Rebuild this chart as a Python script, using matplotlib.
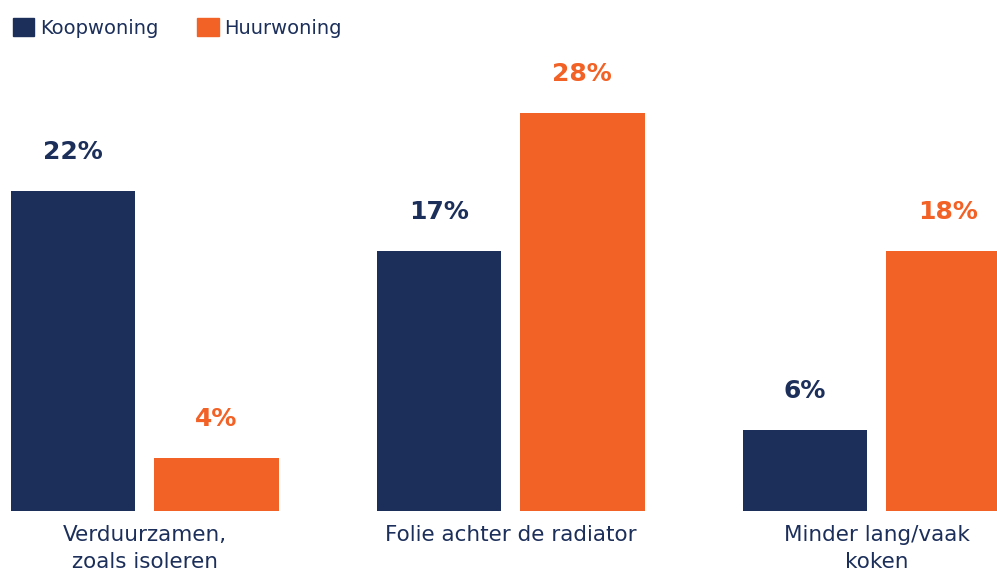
import numpy as np
import matplotlib.pyplot as plt
from matplotlib.patches import Patch

categories = ["Verduurzamen,\nzoals isoleren", "Folie achter de radiator", "Minder lang/vaak\nkoken"]
koop = [22.5, 18.3, 5.7]
huur = [3.7, 28.0, 18.3]
koop_labels = ["22%", "17%", "6%"]
huur_labels = ["4%", "28%", "18%"]

navy = "#1c2f5a"
orange = "#f26125"

fig = plt.figure(figsize=(9.97, 5.77), dpi=100)
ax = fig.add_axes([0, 66 / 577, 1, 511 / 577])

x = np.arange(len(categories))
w = 0.34
off = 0.196
b1 = ax.bar(x - off, koop, w, color=navy)
b2 = ax.bar(x + off, huur, w, color=orange)

for bars, labs, col in [(b1, koop_labels, navy), (b2, huur_labels, orange)]:
    for bar, lab in zip(bars, labs):
        ax.annotate(lab, (bar.get_x() + bar.get_width() / 2, bar.get_height()),
                    xytext=(0, 23), textcoords="offset points", ha="center",
                    va="baseline", fontsize=18, fontweight="bold", color=col)

ax.set_xlim(-0.395, 2.329)
ax.set_ylim(0, 35.96)
ax.set_xticks(x)
ax.set_xticklabels(categories, fontsize=15.5, color=navy, linespacing=1.45)
ax.tick_params(axis="x", length=0, pad=10)
ax.set_yticks([])
for s in ax.spines.values():
    s.set_visible(False)

handles = [Patch(color=navy, label="Koopwoning"), Patch(color=orange, label="Huurwoning")]
fig.legend(handles=handles, loc="upper left", bbox_to_anchor=(0.0, 1 - 5 / 577), ncol=2,
           frameon=False, fontsize=14, labelcolor=navy, handlelength=1.1,
           handleheight=1.1, handletextpad=0.3, columnspacing=2.0,
           borderaxespad=0.25, borderpad=0.4)

fig.savefig("out.png", dpi=100)
